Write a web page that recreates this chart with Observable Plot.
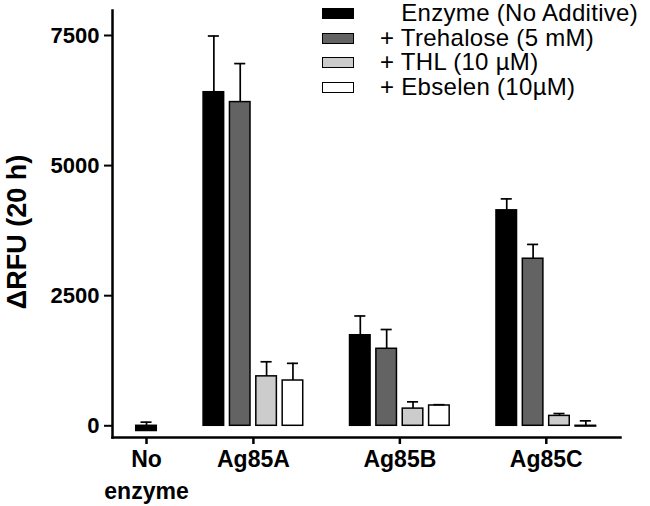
<!DOCTYPE html>
<html>
<head>
<meta charset="utf-8">
<script src="https://cdn.jsdelivr.net/npm/d3@7"></script>
<script src="https://cdn.jsdelivr.net/npm/@observablehq/plot@0.6"></script>
<style>
  body { margin: 0; background: white; }
  #wrap { position: relative; width: 650px; height: 506px; }
  #legend { position: absolute; left: 322px; top: 1px; font-family: "Liberation Sans", Arial, sans-serif; font-size: 24px; letter-spacing: 0.3px; line-height: 24.7px; color: black; }
  .row { display: flex; align-items: center; height: 24.7px; white-space: pre; }
  .sw { width: 30px; height: 9px; border: 1.5px solid black; margin-right: 26px; }
  .hid { visibility: hidden; }
</style>
</head>
<body>
<div id="wrap"></div>
<script>
const groups = ["No enzyme", "Ag85A", "Ag85B", "Ag85C"];
const groupLabels = ["No\nenzyme", "Ag85A", "Ag85B", "Ag85C"];
const conditions = ["Enzyme (No Additive)", "+ Trehalose (5 mM)", "+ THL (10 µM)", "+ Ebselen (10µM)"];
const colors = ["#000000", "#636363", "#cccccc", "#ffffff"];

const meanNoEnzyme = [-100];
const errNoEnzyme = [170];
const meanAg85A = [6410, 6220, 950, 870];
const errAg85A = [1080, 740, 280, 330];
const meanAg85B = [1740, 1480, 330, 390];
const errAg85B = [370, 370, 130, 15];
const meanAg85C = [4140, 3210, 190, -15];
const errAg85C = [220, 275, 45, 110];

const yTicks = [0, 2500, 5000, 7500];
const yLabel = "ΔRFU (20 h)";

const allMeans = [meanNoEnzyme, meanAg85A, meanAg85B, meanAg85C];
const allErrs = [errNoEnzyme, errAg85A, errAg85B, errAg85C];

// layout: bars one unit apart, extra gap between groups
const GAP = 2.555;
const HALF = 0.39;
const CAP = 0.21;
const rows = [];
const centers = [];
let pos = 0;
allMeans.forEach((means, g) => {
  means.forEach((m, k) => rows.push({group: groups[g], cond: k, x: pos + k, mean: m, err: allErrs[g][k]}));
  centers.push(pos + (means.length - 1) / 2);
  pos += means.length - 1 + GAP;
});
const labelByCenter = new Map(centers.map((c, i) => [c, groupLabels[i]]));

const chart = Plot.plot({
  width: 650,
  height: 506,
  marginLeft: 112,
  marginRight: 30,
  marginTop: 10,
  marginBottom: 69,
  style: {fontFamily: "'Liberation Sans', Arial, sans-serif", fontWeight: "bold", background: "white", color: "black", overflow: "visible"},
  x: {type: "linear", domain: [-1.29, 17.98]},
  y: {domain: [-225, 7980]},
  color: {type: "identity"},
  marks: [
    Plot.rect(rows, {x1: d => d.x - HALF, x2: d => d.x + HALF, y1: () => 0, y2: "mean", fill: d => colors[d.cond], stroke: "black", strokeWidth: 1.5}),
    Plot.ruleX(rows, {x: "x", y1: "mean", y2: d => d.mean + d.err, stroke: "black", strokeWidth: 1.7}),
    Plot.ruleY(rows, {y: d => d.mean + d.err, x1: d => d.x - CAP, x2: d => d.x + CAP, stroke: "black", strokeWidth: 1.7}),
    Plot.frame({anchor: "left", strokeWidth: 2.5}),
    Plot.frame({anchor: "bottom", strokeWidth: 2.5}),
    Plot.axisY(yTicks, {tickSize: 8, tickPadding: 5, fontSize: 22, strokeWidth: 2, tickFormat: d => String(d), label: null}),
    Plot.axisX(centers, {tickSize: 7, tickPadding: 0, fontSize: 23, strokeWidth: 2.5, lineHeight: 1.38, tickFormat: d => labelByCenter.get(d), label: null}),
    Plot.text([yLabel], {frameAnchor: "left", rotate: -90, textAnchor: "middle", dx: -95, dy: 8, fontSize: 27, fontWeight: "bold"})
  ]
});

const wrap = document.getElementById("wrap");
wrap.appendChild(chart);
const legend = document.createElement("div");
legend.id = "legend";
conditions.forEach((c, i) => {
  const row = document.createElement("div");
  row.className = "row";
  const sw = document.createElement("div");
  sw.className = "sw";
  sw.style.background = colors[i];
  row.appendChild(sw);
  const t = document.createElement("span");
  if (i === 0) {
    t.innerHTML = '<span class="hid">+ </span>' + c;
  } else {
    t.textContent = c;
  }
  row.appendChild(t);
  legend.appendChild(row);
});
wrap.appendChild(legend);
</script>
</body>
</html>
